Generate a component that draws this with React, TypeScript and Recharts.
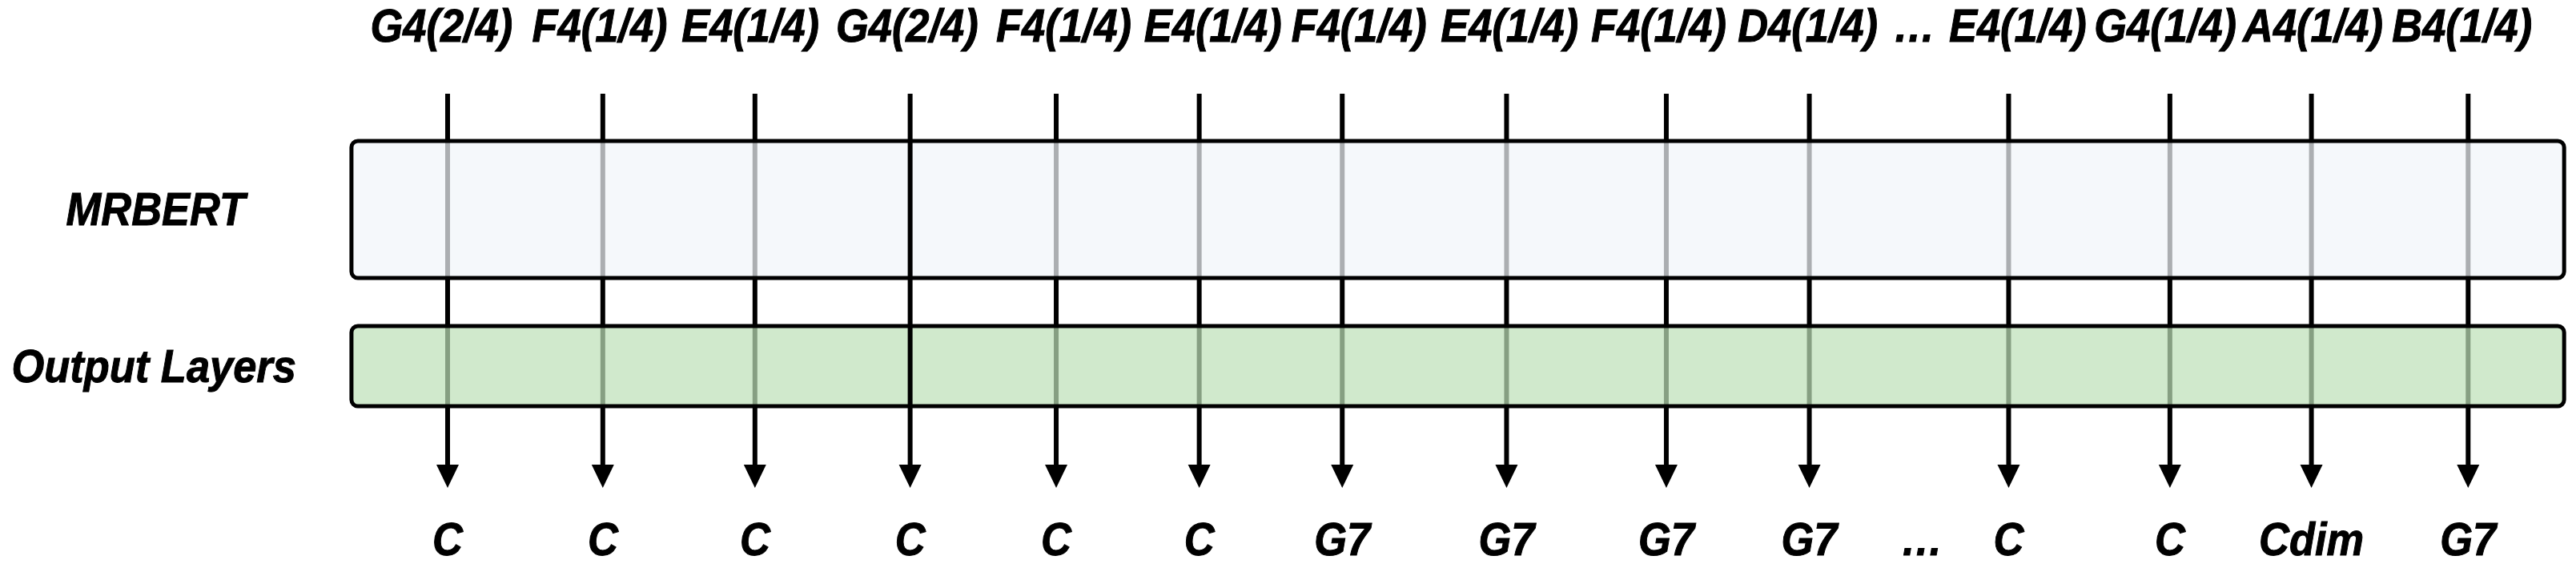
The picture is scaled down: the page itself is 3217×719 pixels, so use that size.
import React from 'react';
import { ComposedChart, Scatter, XAxis, YAxis, ReferenceArea, Label, Rectangle } from 'recharts';

// input notes (top), predicted chords (bottom); '…' marks the skipped part
const notes = ['G4(2/4)', 'F4(1/4)', 'E4(1/4)', 'G4(2/4)', 'F4(1/4)', 'E4(1/4)', 'F4(1/4)', 'E4(1/4)', 'F4(1/4)', 'D4(1/4)', '…', 'E4(1/4)', 'G4(1/4)', 'A4(1/4)', 'B4(1/4)'];
const chords = ['C', 'C', 'C', 'C', 'C', 'C', 'G7', 'G7', 'G7', 'G7', '…', 'C', 'C', 'Cdim', 'G7'];
// token slot along the sequence (arrows + chords) and where each note label sits
const tokenSlot = [0, 1.02, 2.02, 3.04, 4.0, 4.94, 5.88, 6.96, 8.01, 8.95, 9.69, 10.26, 11.32, 12.25, 13.28];
const noteSlot = [-0.04, 1.0, 1.99, 3.02, 4.05, 5.03, 5.99, 6.98, 7.96, 8.94, 9.64, 10.32, 11.29, 12.26, 13.24];
// the 4th token is drawn over the layers
const highlighted = [false, false, false, true, false, false, false, false, false, false, false, false, false, false, false];

const W = 3217;
const H = 719;
const FONT = '"Liberation Sans", Arial, Helvetica, sans-serif';
const FONT_SIZE = 57;
const SQUEEZE = 0.92; // the source font is a bit condensed
const X_DOMAIN: [number, number] = [-2.942, 13.989];
const BOX_X: [number, number] = [-0.632, 13.911];

const NOTE_Y = 52;
const LINE_TOP = 117;
const CHORD_Y = 693;

const arrows = tokenSlot
  .map((pos, i) => ({ pos, y: LINE_TOP, chord: chords[i], top: highlighted[i] }))
  .filter((t) => t.chord !== '…');
const under = arrows.filter((a) => !a.top);
const over = arrows.filter((a) => a.top);
const noteData = notes.map((label, i) => ({ pos: noteSlot[i], y: NOTE_Y, label }));
const chordData = chords.map((label, i) => ({ pos: tokenSlot[i], y: CHORD_Y, label }));

const Arrow = (props: any) => {
  const { cx, cy } = props;
  return (
    <g>
      <line x1={cx} y1={cy} x2={cx} y2={cy + 470} stroke="#000" strokeWidth={6} />
      <polygon points={`${cx - 14},${cy + 463} ${cx + 14},${cy + 463} ${cx},${cy + 492}`} fill="#000" />
    </g>
  );
};

const Txt = ({ x, y, anchor, children }: any) => (
  <text
    transform={`translate(${x},${y}) scale(${SQUEEZE},1)`}
    textAnchor={anchor}
    fontFamily={FONT}
    fontSize={FONT_SIZE}
    fontWeight={700}
    fontStyle="italic"
    fill="#000"
    stroke="#000"
    strokeWidth={1}
  >
    {children}
  </text>
);

const Word = (props: any) => {
  const { cx, cy, payload } = props;
  return <Txt x={cx} y={cy} anchor="middle">{payload.label}</Txt>;
};

const sideLabel = (text: string, gap: number) => (props: any) => {
  const { x, y, height } = props.viewBox;
  return <Txt x={x - gap} y={y + height / 2 + FONT_SIZE * 0.35} anchor="end">{text}</Txt>;
};

const RoundBox = (props: any) => <Rectangle {...props} radius={8} />;

export default function App() {
  return (
    <div style={{ position: 'absolute', left: 0, top: 0, background: '#fff' }}>
      <ComposedChart width={W} height={H} margin={{ top: 0, right: 0, bottom: 0, left: 0 }}>
        <XAxis type="number" dataKey="pos" domain={X_DOMAIN} allowDataOverflow hide />
        <YAxis type="number" dataKey="y" domain={[0, H]} reversed allowDataOverflow hide />

        <Scatter data={under} shape={Arrow} isAnimationActive={false} />

        <ReferenceArea
          x1={BOX_X[0]} x2={BOX_X[1]} y1={176} y2={347}
          fill="#f1f5fa" fillOpacity={0.71} stroke="#000" strokeWidth={5}
          shape={RoundBox} zIndex={650}
        >
          <Label content={sideLabel('MRBERT', 133)} />
        </ReferenceArea>
        <ReferenceArea
          x1={BOX_X[0]} x2={BOX_X[1]} y1={407} y2={507}
          fill="#bde0b7" fillOpacity={0.71} stroke="#000" strokeWidth={5}
          shape={RoundBox} zIndex={650}
        >
          <Label content={sideLabel('Output Layers', 69)} />
        </ReferenceArea>

        <Scatter data={over} shape={Arrow} isAnimationActive={false} zIndex={700} />
        <Scatter data={noteData} shape={Word} isAnimationActive={false} zIndex={700} />
        <Scatter data={chordData} shape={Word} isAnimationActive={false} zIndex={700} />
      </ComposedChart>
    </div>
  );
}
